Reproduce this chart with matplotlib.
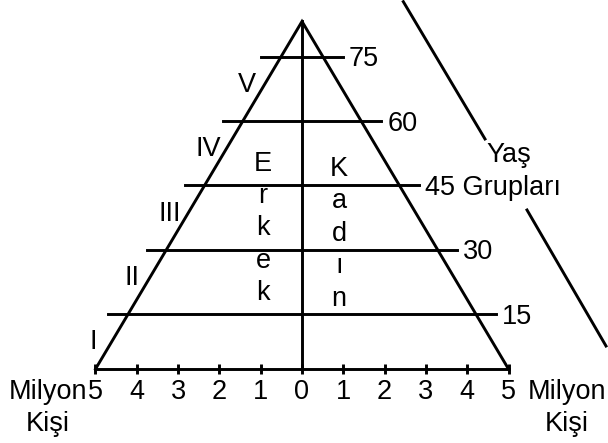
import matplotlib
matplotlib.use("Agg")
import matplotlib.pyplot as plt
import numpy as np

plt.rcParams['font.family'] = ['Liberation Sans', 'DejaVu Sans']

# population axis (millions, both sides)
tick_vals = [-5, -4, -3, -2, -1, 0, 1, 2, 3, 4, 5]
tick_labels = ['5', '4', '3', '2', '1', '0', '1', '2', '3', '4', '5']

# age group limits and how far each line sticks out
age_lines = [15, 30, 45, 60, 75]
age_labels = ['15', '30', '45 Grupları', '60', '75']
line_half = [4.7, 3.75, 2.83, 1.92, 0.99]
groups = ['I', 'II', 'III', 'IV', 'V']

male_word = 'Erkek'
female_word = 'Kadın'

# pyramid shape
apex_age = 83.2
base_age = 2.25
base_half = 5

fs = 19.5
lw = 2.1

fig = plt.figure(figsize=(6.08, 4.43), dpi=100)
ax = fig.add_axes([0, 0, 1, 1])
ax.set_xlim(-7.312, 7.409)
ax.set_ylim(-14.98, 88.2)
ax.axis('off')


def side_x(age):
    return base_half * (apex_age - age) / (apex_age - base_age)


# triangle + centre line + base
ax.plot([-base_half, 0, base_half], [base_age, apex_age, base_age],
        color='black', lw=lw, solid_joinstyle='miter')
ax.plot([0, 0], [base_age, apex_age], color='black', lw=lw)
ax.plot([-base_half, base_half], [base_age, base_age], color='black', lw=lw)
ax.vlines(tick_vals, base_age - 1.15, base_age + 1.15, color='black', lw=lw)

for v, lab in zip(tick_vals, tick_labels):
    ax.text(v, -4.73, lab, ha='center', va='baseline', fontsize=fs)

for xx in (-6.16, 6.41):
    ax.text(xx, -4.73, 'Milyon', ha='center', va='baseline', fontsize=fs)
    ax.text(xx, -12.19, 'Kişi', ha='center', va='baseline', fontsize=fs)

# age lines
for age, half, lab in zip(age_lines, line_half, age_labels):
    ax.plot([-half, half], [age, age], color='black', lw=lw)
    ax.text(half + 0.15, age - 2.2, lab, ha='left', va='baseline', fontsize=fs)

ax.text(5.0, 50.54, 'Yaş', ha='center', va='baseline', fontsize=fs)

# roman numerals along the left side
for age, g in zip(age_lines, groups):
    b = age - 8.2
    ax.text(-side_x(b) - 0.33, b, g, ha='center', va='baseline', fontsize=fs)

# vertical words
step = 7.55
for i, ch in enumerate(male_word):
    ax.text(-0.94, 48.45 - i * step, ch, ha='center', va='baseline', fontsize=fs)
for i, ch in enumerate(female_word):
    ax.text(0.9, 47.2 - i * step, ch, ha='center', va='baseline', fontsize=fs)

# slanted bracket line around the labels
ax.plot([2.453, 4.431], [87.81, 55.83], color='black', lw=lw)
ax.plot([5.448, 7.361], [39.29, 7.61], color='black', lw=lw)

fig.savefig('out.png', dpi=100)
